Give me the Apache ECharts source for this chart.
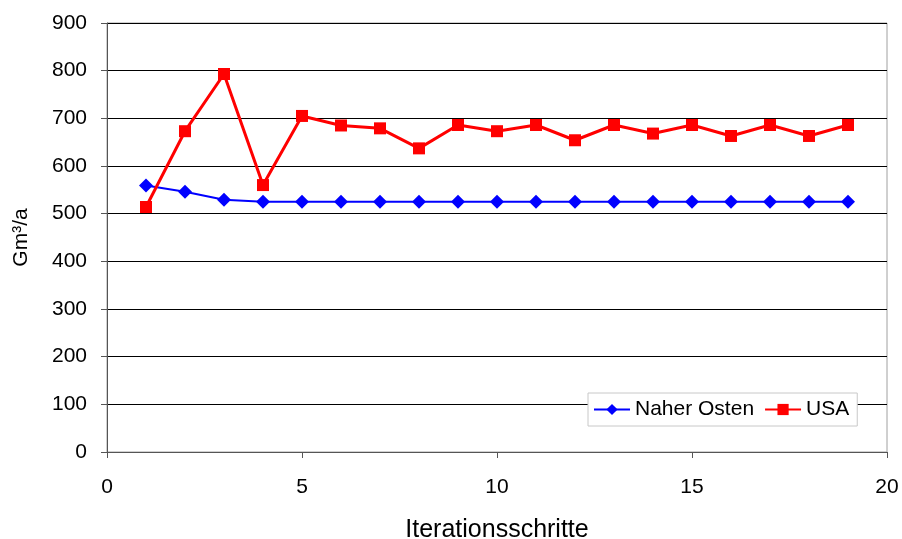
<!DOCTYPE html>
<html>
<head>
<meta charset="utf-8">
<script src="https://cdn.jsdelivr.net/npm/echarts@6/dist/echarts.min.js"></script>
<style>
  html, body { margin: 0; padding: 0; background: #fff; }
  #chart { width: 902px; height: 539px; }
</style>
</head>
<body>
<div id="chart"></div>
<script>
var steps = [1, 2, 3, 4, 5, 6, 7, 8, 9, 10, 11, 12, 13, 14, 15, 16, 17, 18, 19];
var naherOsten = [559, 546, 529, 525, 525, 525, 525, 525, 525, 525, 525, 525, 525, 525, 525, 525, 525, 525, 525];
var usa = [514, 673, 793, 560, 705, 685, 679, 637, 686, 673, 686, 654, 686, 668, 686, 663, 686, 663, 686];

function pairs(xs, ys) {
    return xs.map(function (x, i) { return [x, ys[i]]; });
}

var myChart = echarts.init(document.getElementById('chart'));
var font = 'Liberation Sans, Arial, sans-serif';
option = {
    animation: false,
    textStyle: { fontFamily: font },
    grid: {
        left: 107,
        right: 15,
        top: 23,
        bottom: 87,
        outerBoundsMode: 'none',
        containLabel: false,
        show: true,
        borderColor: '#a0a0a0',
        borderWidth: 1
    },
    legend: {
        left: 588,
        top: 393,
        backgroundColor: '#fff',
        borderColor: '#c8c8c8',
        borderWidth: 1,
        padding: [6, 8, 6, 5],
        itemWidth: 36,
        itemHeight: 14,
        itemGap: 10,
        textStyle: { fontSize: 21, color: '#000', fontFamily: font },
        data: ['Naher Osten', 'USA']
    },
    xAxis: {
        type: 'value',
        min: 0,
        max: 20,
        interval: 5,
        name: 'Iterationsschritte',
        nameLocation: 'middle',
        nameGap: 66,
        nameTextStyle: { fontSize: 25, color: '#000' },
        axisLine: { lineStyle: { color: '#555', width: 1 } },
        axisTick: { show: true, length: 6, lineStyle: { color: '#555' } },
        axisLabel: { fontSize: 21, color: '#000', margin: 25 },
        splitLine: { show: false }
    },
    yAxis: {
        type: 'value',
        min: 0,
        max: 900,
        interval: 100,
        name: 'Gm³/a',
        nameLocation: 'middle',
        nameGap: 75,
        nameTextStyle: { fontSize: 21, color: '#000' },
        axisLine: { show: true, lineStyle: { color: '#555', width: 1 } },
        axisTick: { show: true, length: 6, lineStyle: { color: '#555' } },
        axisLabel: { fontSize: 21, color: '#000', margin: 20 },
        splitLine: { show: true, lineStyle: { color: '#000', width: 1 } }
    },
    series: [
        {
            name: 'Naher Osten',
            type: 'line',
            data: pairs(steps, naherOsten),
            symbol: 'diamond',
            symbolSize: 14,
            color: '#0000ff',
            lineStyle: { width: 2, color: '#0000ff' },
            itemStyle: { color: '#0000ff' }
        },
        {
            name: 'USA',
            type: 'line',
            data: pairs(steps, usa),
            symbol: 'rect',
            symbolSize: 12,
            color: '#ff0000',
            lineStyle: { width: 3, color: '#ff0000' },
            itemStyle: { color: '#ff0000' }
        }
    ]
};
myChart.setOption(option);
</script>
</body>
</html>
